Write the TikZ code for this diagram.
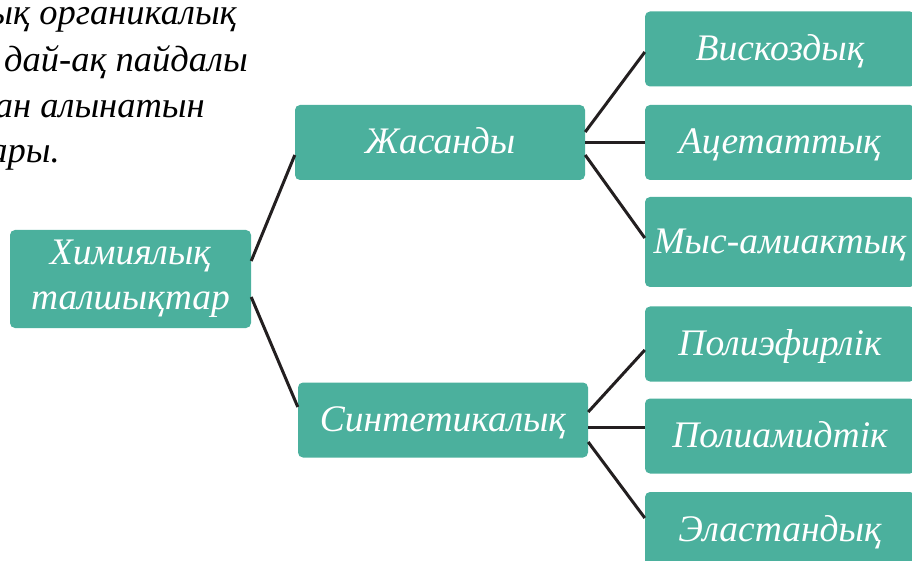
\documentclass[tikz,border=0pt]{standalone}
\usepackage{fontspec}
\setmainfont{Liberation Serif}
\definecolor{boxteal}{RGB}{75,176,157}
\definecolor{linedark}{RGB}{35,31,32}
\begin{document}
\begin{tikzpicture}[x=1pt,y=1pt, line join=round,
  kbox/.style={fill=boxteal, rounded corners=5pt, text=white, inner sep=0pt, align=center,
    font=\fontsize{37.5}{45}\selectfont\itshape},
  lvl1/.style={kbox, minimum width=290pt, minimum height=75pt, text height=26pt, text depth=4pt},
  lvl2/.style={kbox, minimum width=270pt, minimum height=75pt, text height=27pt, text depth=4pt},
  note/.style={anchor=base east, inner sep=0pt, font=\fontsize{36.5}{46}\selectfont\itshape},
  link/.style={draw=linedark, line width=3pt}]
\def\W{912} \def\H{560}
\clip (0,0) rectangle (\W,\H);
% мәтін (сол жақ жоғары)
\node[note] (t1) at (237,535) {ық органикалық};
\node[note] (t2) at (248,488) {дай-ақ пайдалы};
\node[note] (t3) at (205,442) {ан алынатын};
\node[note] (t4) at (60,397) {ары.};
% түйіндер
\node[kbox, minimum width=241pt, minimum height=98pt] (root) at (130.5,281) {Химиялық\\талшықтар};
\node[lvl1] (jas) at (440,417.5) {Жасанды};
\node[lvl1] (syn) at (443,140) {Синтетикалық};
\node[lvl2] (vis) at (780,511) {Вискоздық};
\node[lvl2] (ace) at (780,417.5) {Ацетаттық};
\node[lvl2, minimum height=90pt] (mys) at (780,318) {Мыс-амиактық};
\node[lvl2] (pef) at (780,216) {Полиэфирлік};
\node[lvl2] (pam) at (780,124) {Полиамидтік};
\node[lvl2] (ela) at (780,30.5) {Эластандық};
% байланыстар
\draw[link] ([yshift=18]root.east) -- ([yshift=-12.5]jas.west);
\draw[link] ([yshift=-18]root.east) -- ([yshift=13]syn.west);
\draw[link] ([yshift=10.5]jas.east) -- ([yshift=-3]vis.west);
\draw[link] (jas.east) -- (ace.west);
\draw[link] ([yshift=-12.5]jas.east) -- ([yshift=4]mys.west);
\draw[link] ([yshift=8]syn.east) -- ([yshift=-6]pef.west);
\draw[link] ([yshift=-7]syn.east) -- ([yshift=-7]syn.east -| pam.west);
\draw[link] ([yshift=-22]syn.east) -- ([yshift=11.5]ela.west);
\end{tikzpicture}
\end{document}
